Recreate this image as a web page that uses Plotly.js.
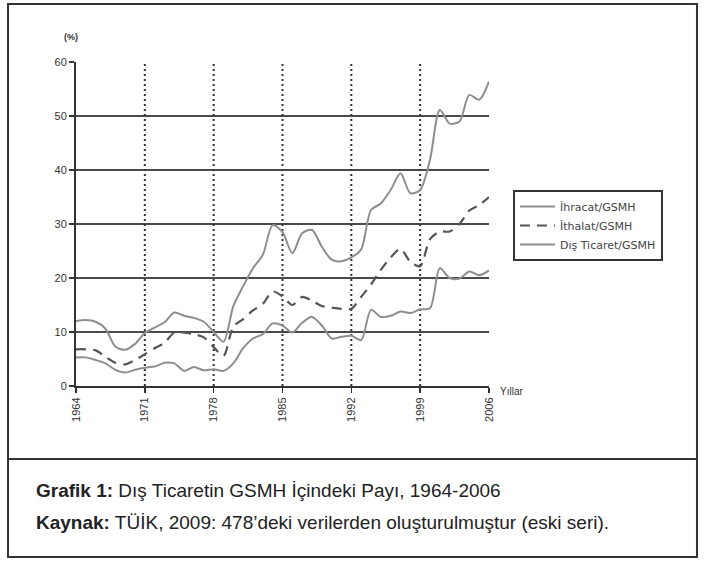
<!DOCTYPE html>
<html>
<head>
<meta charset="utf-8">
<script src="https://cdn.plot.ly/plotly-3.0.1.min.js"></script>
<style>
html,body{margin:0;padding:0;background:#fff;}
#chart{width:705px;height:563px;}
</style>
</head>
<body>
<div id="chart"></div>
<script>
// ---- Data ----
const years = [1964,1965,1966,1967,1968,1969,1970,1971,1972,1973,1974,1975,1976,1977,1978,1979,1980,1981,1982,1983,1984,1985,1986,1987,1988,1989,1990,1991,1992,1993,1994,1995,1996,1997,1998,1999,2000,2001,2002,2003,2004,2005,2006];
const ihracat = [5.3,5.3,4.8,4.2,3.0,2.5,3.0,3.4,3.6,4.3,4.2,2.8,3.5,2.9,3.1,2.8,4.2,7.0,8.8,9.6,11.6,11.2,9.9,11.7,12.8,11.2,8.8,9.1,9.3,8.5,14.1,12.8,13.0,13.8,13.5,14.2,14.4,21.8,20.0,19.9,21.2,20.5,21.4];
const ithalat = [6.8,6.8,6.6,5.4,4.3,4.0,4.8,5.9,7.0,8.0,9.9,9.9,9.6,9.0,7.2,5.6,11.0,12.4,14.0,15.2,17.5,16.6,15.0,16.5,15.8,14.8,14.5,14.3,14.3,16.5,18.8,21.5,23.8,25.4,23.0,22.2,27.2,28.6,28.6,30.0,32.5,33.5,35.0];
const disTicaret = [12.0,12.2,11.9,10.6,7.3,6.7,7.8,9.8,10.8,11.8,13.6,13.0,12.6,11.9,10.0,8.2,14.8,18.5,21.8,24.3,29.8,28.5,24.6,28.3,28.9,25.8,23.4,23.1,23.8,25.3,32.6,33.8,36.3,39.4,35.7,36.3,41.9,51.1,48.6,49.0,53.9,53.0,56.4];
const seriesNames = ["İhracat/GSMH","İthalat/GSMH","Dış Ticaret/GSMH"];
const xTicks = [1964,1971,1978,1985,1992,1999,2006];
const yTicks = [0,10,20,30,40,50,60];
const yGrid = [10,20,30,40,50];
const xGrid = [1971,1978,1985,1992,1999];
const yUnit = "(%)";
const xUnit = "Yıllar";
const caption1 = "<b>Grafik 1:</b> Dış Ticaretin GSMH İçindeki Payı, 1964-2006";
const caption2 = "<b>Kaynak:</b> TÜİK, 2009: 478’deki verilerden oluşturulmuştur (eski seri).";

const font = "Liberation Sans, Arial, sans-serif";
const capFont = "Liberation Sans, Arial, sans-serif";

const traces = [
  {x: years, y: ihracat, name: seriesNames[0], type: "scatter", mode: "lines",
   line: {color: "#8e8e8e", width: 2, shape: "spline", smoothing: 0.8}},
  {x: years, y: ithalat, name: seriesNames[1], type: "scatter", mode: "lines",
   line: {color: "#555555", width: 2.2, dash: "10px,7px", shape: "spline", smoothing: 0.8}},
  {x: years, y: disTicaret, name: seriesNames[2], type: "scatter", mode: "lines",
   line: {color: "#8e8e8e", width: 2, shape: "spline", smoothing: 0.8}}
];

const shapes = [];
yGrid.forEach(v => shapes.push({type: "line", xref: "paper", yref: "y", x0: 0, x1: 1, y0: v, y1: v,
  line: {color: "#4a4a4a", width: 2}, layer: "below"}));
xGrid.forEach(v => shapes.push({type: "line", xref: "x", yref: "paper", x0: v, x1: v, y0: 0, y1: 1,
  line: {color: "#333", width: 2, dash: "2px,3px"}, layer: "below"}));
// outer frame and caption divider
shapes.push({type: "rect", xref: "paper", yref: "paper", x0: -0.1646, x1: 1.5036, y0: -0.5278, y1: 1.179,
  line: {color: "#333", width: 2}, fillcolor: "rgba(0,0,0,0)"});
shapes.push({type: "line", xref: "paper", yref: "paper", x0: -0.1646, x1: 1.5036, y0: -0.2253, y1: -0.2253,
  line: {color: "#333", width: 2}});

const annotations = [
  {xref: "paper", yref: "paper", x: -0.012, y: 1.077, text: "<b>" + yUnit + "</b>", showarrow: false,
   xanchor: "center", yanchor: "middle", font: {family: font, size: 9, color: "#333"}},
  {xref: "paper", yref: "paper", x: 1.022, y: -0.0185, text: xUnit, showarrow: false,
   xanchor: "left", yanchor: "middle", font: {family: font, size: 10, color: "#333"}},
  {xref: "paper", yref: "paper", x: -0.1017, y: -0.321, text: caption1, showarrow: false,
   xanchor: "left", yanchor: "middle", font: {family: capFont, size: 19, color: "#222"}},
  {xref: "paper", yref: "paper", x: -0.1017, y: -0.4228, text: caption2, showarrow: false,
   xanchor: "left", yanchor: "middle", font: {family: capFont, size: 19, color: "#222"}}
];

const layout = {
  width: 705, height: 563,
  margin: {l: 76, r: 216, t: 62, b: 177, pad: 0},
  paper_bgcolor: "#fff", plot_bgcolor: "#fff",
  font: {family: font, color: "#333"},
  showlegend: true,
  legend: {x: 1.058, y: 0.605, xanchor: "left", yanchor: "top",
    bordercolor: "#333", borderwidth: 2, bgcolor: "#fff",
    font: {family: "DejaVu Sans, sans-serif", size: 11, color: "#444"}, itemwidth: 35, tracegroupgap: 0},
  xaxis: {range: [1964, 2006], tickvals: xTicks, ticktext: xTicks.map(String), tickangle: -90,
    showgrid: false, zeroline: false, showline: true, linecolor: "#333", linewidth: 2,
    ticks: "outside", ticklen: 5, tickwidth: 1.5, tickcolor: "#333",
    tickfont: {family: font, size: 11, color: "#333"}},
  yaxis: {range: [0, 60], tickvals: yTicks, showgrid: false, zeroline: false,
    showline: true, linecolor: "#333", linewidth: 2,
    ticks: "outside", ticklen: 5, tickwidth: 1.5, tickcolor: "#333",
    tickfont: {family: font, size: 11, color: "#333"}},
  shapes: shapes,
  annotations: annotations
};

Plotly.newPlot("chart", traces, layout, {displayModeBar: false, staticPlot: true});
</script>
</body>
</html>
